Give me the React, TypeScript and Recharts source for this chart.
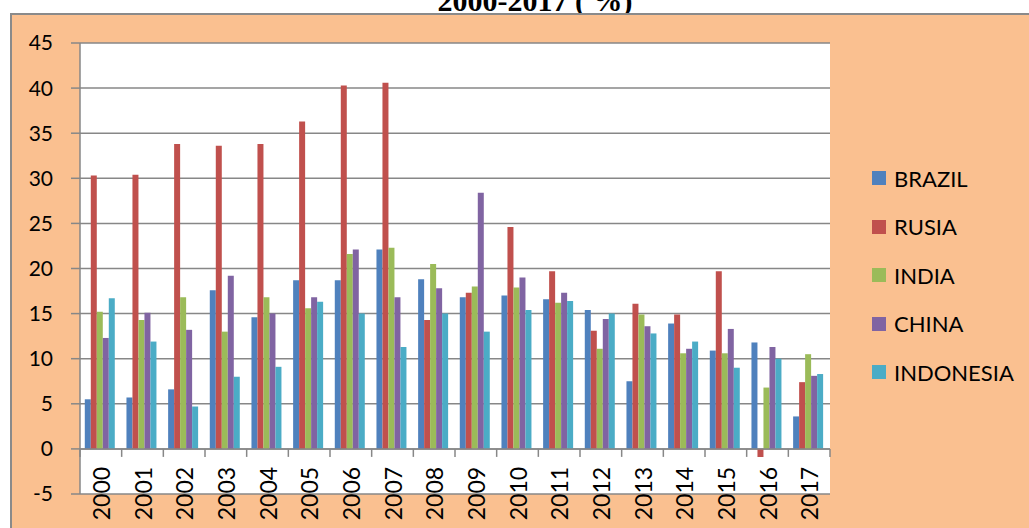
import { BarChart, Bar, XAxis, YAxis, CartesianGrid, ReferenceLine } from "recharts";

const years = ["2000", "2001", "2002", "2003", "2004", "2005", "2006", "2007", "2008", "2009", "2010", "2011", "2012", "2013", "2014", "2015", "2016", "2017"];
const brazil = [5.5, 5.7, 6.6, 17.6, 14.6, 18.7, 18.7, 22.1, 18.8, 16.8, 17.0, 16.6, 15.4, 7.5, 13.9, 10.9, 11.8, 3.6];
const rusia = [30.3, 30.4, 33.8, 33.6, 33.8, 36.3, 40.3, 40.6, 14.3, 17.3, 24.6, 19.7, 13.1, 16.1, 14.9, 19.7, -0.9, 7.4];
const india = [15.2, 14.3, 16.8, 13.0, 16.8, 15.6, 21.6, 22.3, 20.5, 18.0, 17.9, 16.2, 11.1, 14.9, 10.6, 10.6, 6.8, 10.5];
const china = [12.3, 15.1, 13.2, 19.2, 15.0, 16.8, 22.1, 16.8, 17.8, 28.4, 19.0, 17.3, 14.4, 13.6, 11.1, 13.3, 11.3, 8.1];
const indonesia = [16.7, 11.9, 4.7, 8.0, 9.1, 16.3, 15.0, 11.3, 15.0, 13.0, 15.4, 16.4, 15.0, 12.8, 11.9, 9.0, 10.0, 8.3];
const yTicks = [-5, 0, 5, 10, 15, 20, 25, 30, 35, 40, 45];

const data = years.map((year, i) => ({
  year,
  BRAZIL: brazil[i],
  RUSIA: rusia[i],
  INDIA: india[i],
  CHINA: china[i],
  INDONESIA: indonesia[i],
}));

const series = [
  { key: "BRAZIL", color: "#4F81BD" },
  { key: "RUSIA", color: "#C0504D" },
  { key: "INDIA", color: "#9BBB59" },
  { key: "CHINA", color: "#8064A2" },
  { key: "INDONESIA", color: "#4BACC6" },
];

const FONT = "Lato, 'Liberation Sans', sans-serif";
const GRID = "#878787";
// plot box: x 80..830, y 43..494, domain -5..45
const PLOT_TOP = 43;
const PLOT_H = 451;
const BAND = 750 / years.length;
const ZERO_Y = PLOT_TOP + PLOT_H * (45 / 50);

// category labels hang below the zero line, like Excel's crossing axis
function YearTick(props: any) {
  const { x, index, payload } = props;
  const left = x - BAND / 2;
  const last = index === years.length - 1;
  return (
    <g>
      <line x1={left} x2={left} y1={ZERO_Y} y2={ZERO_Y + 8} stroke={GRID} strokeWidth={1.5} />
      {last && <line x1={x + BAND / 2} x2={x + BAND / 2} y1={ZERO_Y} y2={ZERO_Y + 8} stroke={GRID} strokeWidth={1.5} />}
      <text
        x={x + 1}
        y={ZERO_Y + 18}
        transform={`rotate(-90, ${x + 1}, ${ZERO_Y + 18})`}
        textAnchor="end"
        dy="0.36em"
        fontFamily={FONT}
        fontSize={23}
        fill="#000"
      >
        {payload.value}
      </text>
    </g>
  );
}

export default function App() {
  return (
    <div style={{ position: "absolute", left: 0, top: 0, width: 1029, height: 528, overflow: "hidden", background: "#fff" }}>
      <svg style={{ position: "absolute", left: 0, top: 0 }} width={1029} height={14}>
        <text x={535} y={11} textAnchor="middle" fontFamily="'Liberation Serif', 'Times New Roman', serif" fontWeight="bold" fontSize={30} fill="#000">
          2000-2017 ( %)
        </text>
      </svg>
      <div
        style={{
          position: "absolute",
          left: 10,
          top: 13,
          width: 1040,
          height: 540,
          background: "#FAC090",
          border: "2px solid #8a8a8a",
        }}
      />
      <div style={{ position: "absolute", left: 0, top: 0 }}>
        <BarChart
          width={1029}
          height={528}
          data={data}
          margin={{ top: PLOT_TOP, right: 199, bottom: 33, left: 0 }}
          barCategoryGap="11.5%"
          barGap={0}
        >
          <CartesianGrid vertical={false} stroke={GRID} strokeWidth={1.5} fill="#fff" fillOpacity={1} />
          <XAxis
            dataKey="year"
            height={1}
            axisLine={false}
            tickLine={false}
            interval={0}
            tick={<YearTick />}
          />
          <YAxis
            width={80}
            domain={[-5, 45]}
            ticks={yTicks}
            interval={0}
            allowDataOverflow
            axisLine={{ stroke: GRID, strokeWidth: 1.5 }}
            tickLine={{ stroke: GRID, strokeWidth: 1.5 }}
            tickSize={9}
            tickMargin={18}
            tick={{ fontFamily: FONT, fontSize: 21, fill: "#000" }}
          />
          <ReferenceLine y={0} stroke={GRID} strokeWidth={1.5} />
          {series.map((s) => (
            <Bar key={s.key} dataKey={s.key} fill={s.color} isAnimationActive={false} />
          ))}
        </BarChart>
      </div>
      <div style={{ position: "absolute", left: 872, top: 154, fontFamily: FONT, fontSize: 22, color: "#000" }}>
        {series.map((s) => (
          <div key={s.key} style={{ height: 48.5, display: "flex", alignItems: "center" }}>
            <span style={{ width: 14, height: 14, background: s.color, display: "inline-block", marginRight: 8 }} />
            <span>{s.key}</span>
          </div>
        ))}
      </div>
    </div>
  );
}
